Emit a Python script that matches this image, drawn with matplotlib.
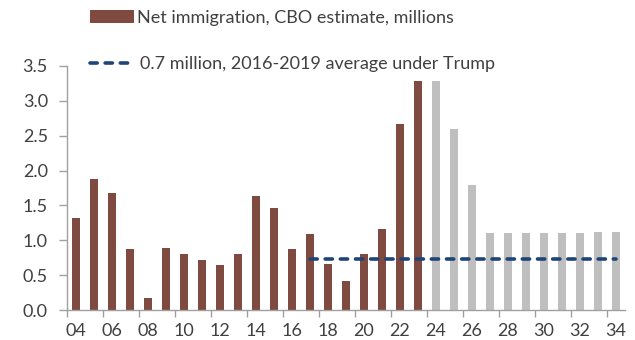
import matplotlib.pyplot as plt
import numpy as np

plt.rcParams['font.family'] = ['Lato', 'DejaVu Sans']

# data
years = list(range(2004, 2035))
actual = [1.32, 1.88, 1.68, 0.88, 0.17, 0.89, 0.80, 0.72, 0.65, 0.81,
          1.63, 1.47, 0.87, 1.09, 0.66, 0.41, 0.80, 1.16, 2.67, 3.28]
projected = [3.29, 2.59, 1.80, 1.10, 1.10, 1.10, 1.10, 1.10, 1.10, 1.12, 1.12]
trump_years = list(range(2017, 2035))
trump_avg = [0.73] * len(trump_years)

brown = '#7f4a40'
grey = '#bfbfbf'
navy = '#1f4478'
txt = '#404040'
fs = 13

fig = plt.figure(figsize=(6.35, 3.4), dpi=100)
ax = fig.add_axes([0.106, 0.088, 0.878, 0.718])

idx = np.arange(len(years))
n_act = len(actual)
bars = ax.bar(idx[:n_act], actual, width=0.45, color=brown)
ax.bar(idx[n_act:], projected, width=0.45, color=grey)
line, = ax.plot([years.index(y) for y in trump_years], trump_avg, color=navy,
                lw=2.6, dashes=(2, 2.2), dash_capstyle='round')

ax.set_xlim(-0.5, len(years) - 0.5)
ax.set_ylim(0, 3.5)
ax.set_yticks(np.arange(0, 3.51, 0.5))
ax.set_yticklabels([f'{v:.1f}' for v in np.arange(0, 3.51, 0.5)])

ax.set_xticks(idx[::2])
ax.set_xticklabels([f'{y % 100:02d}' for y in years[::2]])
ax.set_xticks(np.arange(-0.5, len(years) - 1, 2), minor=True)
ax.tick_params(axis='x', which='major', length=0, pad=9)
ax.tick_params(axis='x', which='minor', length=5, color='#a0a0a0', width=1)
ax.tick_params(axis='y', length=6, color='#a0a0a0', width=1, pad=8)
ax.tick_params(labelsize=fs, labelcolor=txt)

for s in ['top', 'right']:
    ax.spines[s].set_visible(False)
for s in ['left', 'bottom']:
    ax.spines[s].set_color('#a0a0a0')
    ax.spines[s].set_linewidth(1)

fig.legend([bars], ['Net immigration, CBO estimate, millions'],
           loc='center left', bbox_to_anchor=(0.142, 0.947), frameon=False,
           fontsize=fs, handlelength=2.4, handleheight=0.72, borderpad=0,
           borderaxespad=0, handletextpad=0.22, labelcolor=txt)
fig.legend([line], ['0.7 million, 2016-2019 average under Trump'],
           loc='center left', bbox_to_anchor=(0.142, 0.812), frameon=False,
           fontsize=fs, handlelength=2.4, borderpad=0, borderaxespad=0,
           handletextpad=0.38, labelcolor=txt)

fig.savefig('out.png', dpi=100)
